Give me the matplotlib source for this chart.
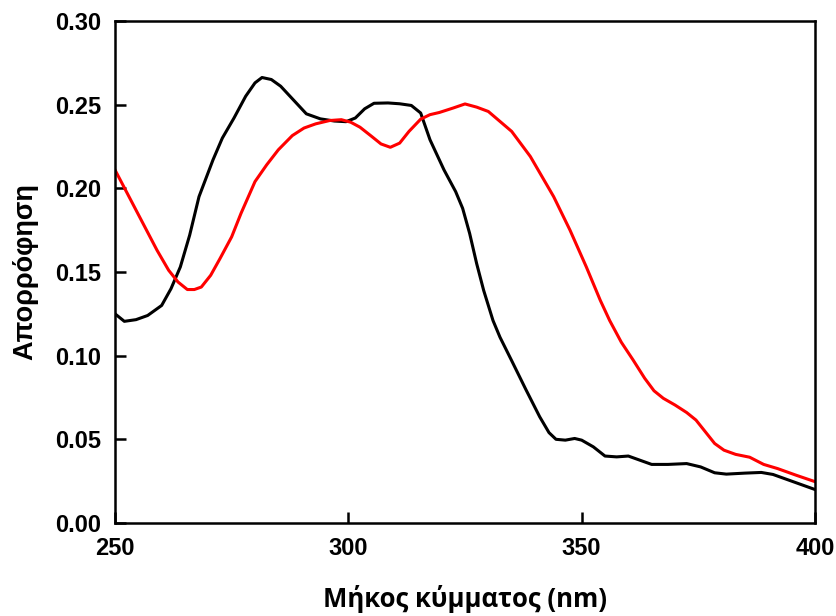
import matplotlib
matplotlib.use("Agg")
import matplotlib.pyplot as plt

# spectra
wl_black = [250, 252, 254.5, 257, 260, 262, 264, 266, 268, 271, 273, 275.5, 278, 280,
            281.5, 283.5, 285.5, 288, 291, 294, 297, 299.5, 301.5, 303.5, 305.5, 308.5,
            311, 313.5, 315.5, 317.5, 320.5, 323, 324.5, 326, 327.5, 329, 331, 332.5,
            335, 338, 341, 343, 344.5, 346.5, 348.5, 350, 352.5, 355, 357.5, 360, 362.5,
            365, 368.5, 372.5, 375.5, 378.5, 381, 385, 388.5, 391, 393.5, 397, 400]
abs_black = [0.125, 0.1205, 0.1215, 0.124, 0.130, 0.140, 0.153, 0.172, 0.195, 0.217,
             0.230, 0.242, 0.255, 0.263, 0.2662, 0.265, 0.261, 0.2535, 0.2445, 0.2415,
             0.2402, 0.2398, 0.2420, 0.2475, 0.2508, 0.2510, 0.2505, 0.2495, 0.245,
             0.229, 0.211, 0.198, 0.188, 0.173, 0.155, 0.139, 0.121, 0.111, 0.097,
             0.080, 0.0635, 0.054, 0.050, 0.0495, 0.0505, 0.0495, 0.0455, 0.040, 0.0395,
             0.040, 0.0375, 0.035, 0.035, 0.0355, 0.0335, 0.030, 0.0292, 0.0298, 0.0302,
             0.029, 0.0265, 0.023, 0.020]

wl_red = [250, 253, 256, 259, 261.5, 263.5, 265.5, 267, 268.5, 270.5, 272.5, 275, 277,
          280, 282.5, 285, 288, 290.5, 293, 296, 298.5, 300.5, 302.5, 305, 307, 309,
          311, 313, 315.5, 317.5, 319.5, 322.5, 325, 327.5, 330, 335, 339, 344, 347.5,
          351, 354, 356, 358.5, 361, 363.5, 365.5, 367.5, 370, 372.5, 374.5, 376.5,
          378.5, 380.5, 383, 386, 389, 392, 396, 400]
abs_red = [0.211, 0.195, 0.179, 0.163, 0.151, 0.144, 0.1395, 0.1395, 0.141, 0.148,
           0.158, 0.171, 0.185, 0.204, 0.214, 0.223, 0.2315, 0.236, 0.2385, 0.2405,
           0.241, 0.2395, 0.2365, 0.231, 0.2265, 0.2245, 0.227, 0.234, 0.2413, 0.244,
           0.2453, 0.248, 0.2504, 0.2485, 0.2459, 0.234, 0.219, 0.195, 0.175, 0.153,
           0.133, 0.121, 0.108, 0.0975, 0.0865, 0.079, 0.0745, 0.0705, 0.066, 0.0615,
           0.0545, 0.0475, 0.0435, 0.041, 0.0393, 0.035, 0.0325, 0.0285, 0.0247]

xticks = [250, 300, 350, 400]
yticks = [0.00, 0.05, 0.10, 0.15, 0.20, 0.25, 0.30]

fig = plt.figure(figsize=(8.37, 6.16), dpi=100, facecolor='w')
ax = fig.add_axes([0.1374, 0.151, 0.8363, 0.815])

ax.plot(wl_black, abs_black, color='black', lw=2.2, solid_joinstyle='round')
ax.plot(wl_red, abs_red, color='#ff0000', lw=2.2, solid_joinstyle='round')

ax.set_xlim(250, 400)
ax.set_ylim(0, 0.30)
ax.set_xticks(xticks)
ax.set_yticks(yticks)
ax.set_xticklabels([str(t) for t in xticks])
ax.set_yticklabels(['%.2f' % t for t in yticks])

for sp in ax.spines.values():
    sp.set_linewidth(1.8)
ax.tick_params(direction='in', length=8, width=1.8, pad=10)
for lab in ax.get_xticklabels() + ax.get_yticklabels():
    lab.set_fontfamily('Liberation Sans')
    lab.set_fontweight('bold')
    lab.set_fontsize(17)

ax.set_xlabel('Μήκος κύμματος (nm)', fontfamily='Open Sans', fontweight='bold',
              fontsize=18.5, labelpad=18)
ax.set_ylabel('Απορρόφηση', fontfamily='Liberation Sans', fontweight='bold',
              fontsize=19.5, labelpad=12)

fig.savefig('out.png', dpi=100)
